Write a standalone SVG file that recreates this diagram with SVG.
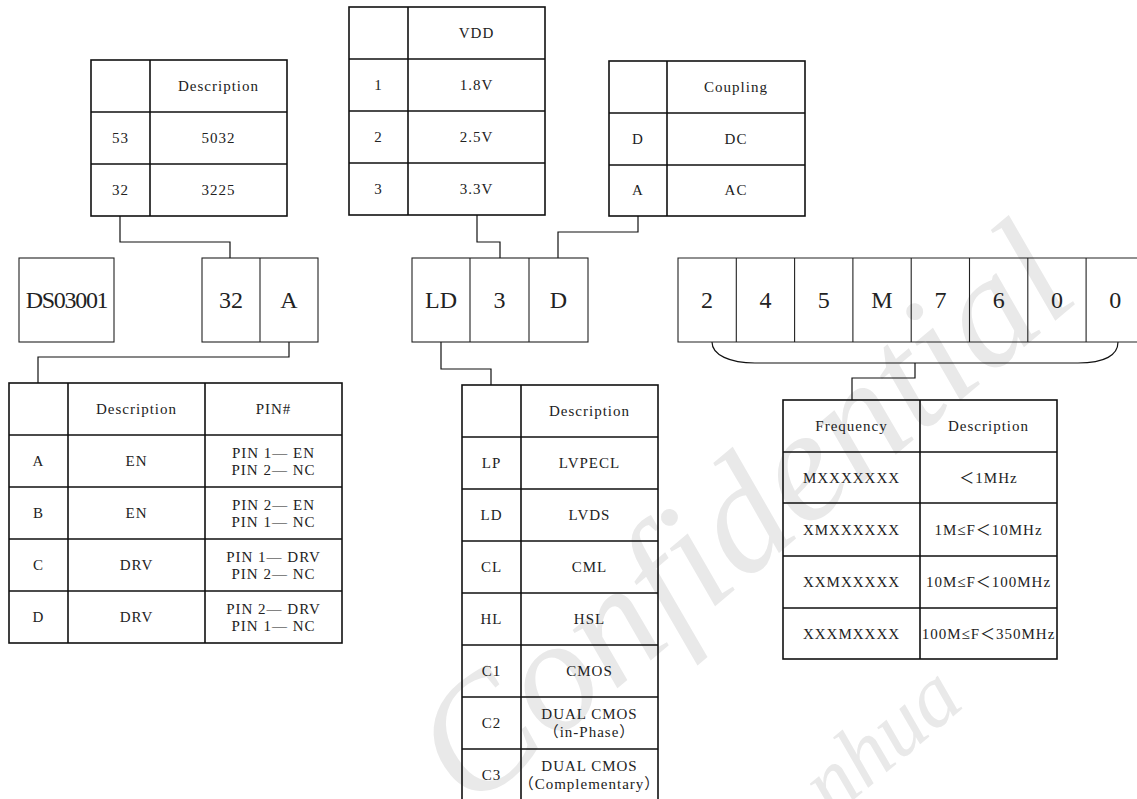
<svg xmlns="http://www.w3.org/2000/svg" width="1137" height="799" viewBox="0 0 1137 799">
<style>
.tb{fill:none;stroke:#111;stroke-width:1.6}
.bx{fill:none;stroke:#222;stroke-width:1.1}
.cn{fill:none;stroke:#111;stroke-width:1.2}
.t{font-family:"Liberation Serif","Noto Sans CJK SC",serif;font-size:15px;letter-spacing:1px;fill:#222;text-anchor:middle;dominant-baseline:central}
.b{font-family:"Liberation Serif","Noto Sans CJK SC",serif;font-size:24px;fill:#222;text-anchor:middle;dominant-baseline:central}
.wm{font-family:"Liberation Serif",serif;font-style:italic;fill:#e9e9e9}
</style>
<rect width="1137" height="799" fill="#fff"/>
<g id="watermark">
<text class="wm" font-size="160" transform="translate(470,812) rotate(-40)">Confidential</text>
<text class="wm" font-size="88" transform="translate(832,818) rotate(-40)">nhua</text>
</g>
<g id="connectors">
<path class="cn" d="M120,216 V242 H230 V258"/>
<path class="cn" d="M289,342 V357 H38 V383"/>
<path class="cn" d="M477,215 V242 H500 V258"/>
<path class="cn" d="M638,216 V232 H558 V258"/>
<path class="cn" d="M441,342 V369 H491 V385"/>
<path class="cn" d="M712,342 C712,355 730,363 755,363 L1078,363 C1105,363 1118,355 1118,342"/>
<path class="cn" d="M915,363 V378 H852 V400"/>
</g>
<g id="size-table">
<rect class="tb" x="91" y="60" width="196" height="156"/>
<path class="tb" d="M91,112 H287 M91,164 H287 M150,60 V216"/>
<text class="t" x="218.5" y="86">Description</text>
<text class="t" x="120.5" y="138">53</text><text class="t" x="218.5" y="138">5032</text>
<text class="t" x="120.5" y="190">32</text><text class="t" x="218.5" y="190">3225</text>
</g>
<g id="vdd-table">
<rect class="tb" x="349" y="7" width="196" height="208"/>
<path class="tb" d="M349,59 H545 M349,111 H545 M349,163 H545 M408,7 V215"/>
<text class="t" x="476.5" y="33">VDD</text>
<text class="t" x="378.5" y="85">1</text><text class="t" x="476.5" y="85">1.8V</text>
<text class="t" x="378.5" y="137">2</text><text class="t" x="476.5" y="137">2.5V</text>
<text class="t" x="378.5" y="189">3</text><text class="t" x="476.5" y="189">3.3V</text>
</g>
<g id="coupling-table">
<rect class="tb" x="609" y="61" width="196" height="155"/>
<path class="tb" d="M609,113 H805 M609,165 H805 M667,61 V216"/>
<text class="t" x="736" y="87">Coupling</text>
<text class="t" x="638" y="139">D</text><text class="t" x="736" y="139">DC</text>
<text class="t" x="638" y="190">A</text><text class="t" x="736" y="190">AC</text>
</g>
<g id="box-ds">
<rect class="bx" x="19" y="258" width="95" height="84"/>
<text class="b" x="66.5" y="300" letter-spacing="-1.3">DS03001</text>
</g>
<g id="box-32a">
<rect class="bx" x="202" y="258" width="116" height="84"/>
<path class="bx" d="M260,258 V342"/>
<text class="b" x="231" y="300">32</text>
<text class="b" x="289" y="300">A</text>
</g>
<g id="box-ld3d">
<rect class="bx" x="412" y="258" width="176" height="84"/>
<path class="bx" d="M470,258 V342 M529,258 V342"/>
<text class="b" x="441" y="300">LD</text>
<text class="b" x="499.5" y="300">3</text>
<text class="b" x="558.5" y="300">D</text>
</g>
<g id="box-freq-code">
<path class="bx" d="M1137,258 H678 V342 H1137 M736.3,258 V342 M794.6,258 V342 M852.9,258 V342 M911.2,258 V342 M969.5,258 V342 M1027.8,258 V342 M1086.1,258 V342"/>
<text class="b" x="707" y="300">2</text>
<text class="b" x="765.5" y="300">4</text>
<text class="b" x="823.8" y="300">5</text>
<text class="b" x="882" y="300">M</text>
<text class="b" x="940.4" y="300">7</text>
<text class="b" x="998.7" y="300">6</text>
<text class="b" x="1057" y="300">0</text>
<text class="b" x="1115.3" y="300">0</text>
</g>
<g id="enable-table">
<rect class="tb" x="9" y="383" width="333" height="260"/>
<path class="tb" d="M9,435 H342 M9,487 H342 M9,539 H342 M9,591 H342 M68,383 V643 M205,383 V643"/>
<text class="t" x="136.5" y="409">Description</text><text class="t" x="273.5" y="409">PIN#</text>
<text class="t" x="38.5" y="461">A</text><text class="t" x="136.5" y="461">EN</text>
<text class="t" x="273.5" y="453">PIN 1— EN</text><text class="t" x="273.5" y="470">PIN 2— NC</text>
<text class="t" x="38.5" y="513">B</text><text class="t" x="136.5" y="513">EN</text>
<text class="t" x="273.5" y="505">PIN 2— EN</text><text class="t" x="273.5" y="522">PIN 1— NC</text>
<text class="t" x="38.5" y="565">C</text><text class="t" x="136.5" y="565">DRV</text>
<text class="t" x="273.5" y="557">PIN 1— DRV</text><text class="t" x="273.5" y="574">PIN 2— NC</text>
<text class="t" x="38.5" y="617">D</text><text class="t" x="136.5" y="617">DRV</text>
<text class="t" x="273.5" y="609">PIN 2— DRV</text><text class="t" x="273.5" y="626">PIN 1— NC</text>
</g>
<g id="output-table">
<rect class="tb" x="462" y="385" width="196" height="416"/>
<path class="tb" d="M462,437 H658 M462,489 H658 M462,541 H658 M462,593 H658 M462,645 H658 M462,697 H658 M462,749 H658 M521,385 V801"/>
<text class="t" x="589.5" y="411">Description</text>
<text class="t" x="491.5" y="463">LP</text><text class="t" x="589.5" y="463">LVPECL</text>
<text class="t" x="491.5" y="515">LD</text><text class="t" x="589.5" y="515">LVDS</text>
<text class="t" x="491.5" y="567">CL</text><text class="t" x="589.5" y="567">CML</text>
<text class="t" x="491.5" y="619">HL</text><text class="t" x="589.5" y="619">HSL</text>
<text class="t" x="491.5" y="671">C1</text><text class="t" x="589.5" y="671">CMOS</text>
<text class="t" x="491.5" y="723">C2</text><text class="t" x="589.5" y="714">DUAL CMOS</text><text class="t" x="589.5" y="732">（in-Phase）</text>
<text class="t" x="491.5" y="775">C3</text><text class="t" x="589.5" y="766">DUAL CMOS</text><text class="t" x="589.5" y="784">（Complementary）</text>
</g>
<g id="frequency-table">
<rect class="tb" x="783" y="400" width="274" height="259"/>
<path class="tb" d="M783,452 H1057 M783,503 H1057 M783,556 H1057 M783,608 H1057 M920,400 V659"/>
<text class="t" x="851.5" y="426">Frequency</text><text class="t" x="988.5" y="426">Description</text>
<text class="t" x="851.5" y="478">MXXXXXXX</text><text class="t" x="988.5" y="478">＜1MHz</text>
<text class="t" x="851.5" y="530">XMXXXXXX</text><text class="t" x="988.5" y="530">1M≤F＜10MHz</text>
<text class="t" x="851.5" y="582">XXMXXXXX</text><text class="t" x="988.5" y="582">10M≤F＜100MHz</text>
<text class="t" x="851.5" y="634">XXXMXXXX</text><text class="t" x="988.5" y="634">100M≤F＜350MHz</text>
</g>
</svg>
